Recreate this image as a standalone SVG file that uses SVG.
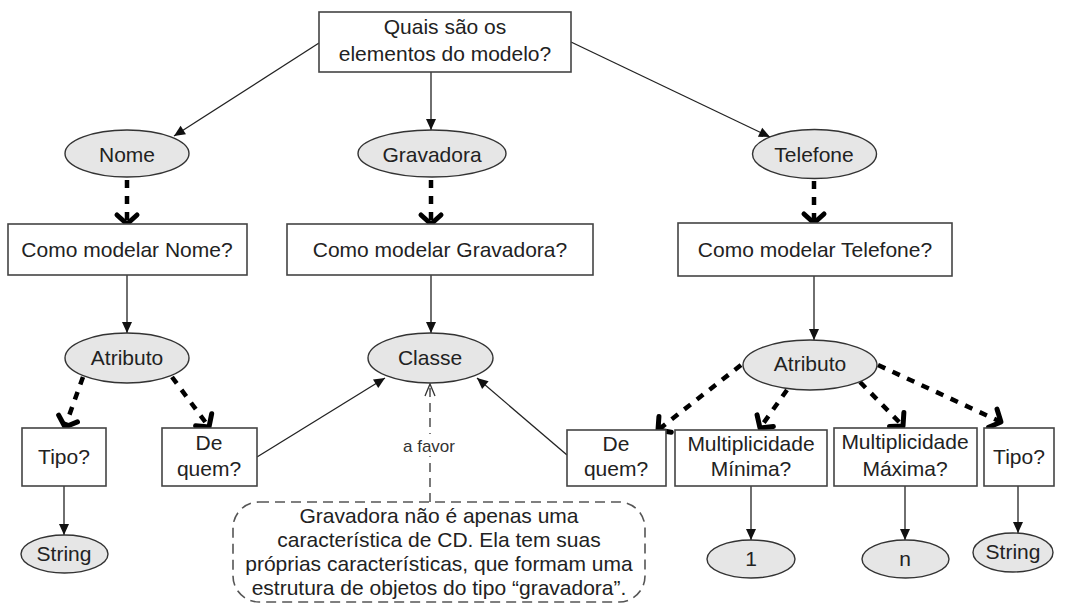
<svg xmlns="http://www.w3.org/2000/svg" width="1068" height="605" viewBox="0 0 1068 605">
<defs>
<style>
text{font-family:"Liberation Sans",Arial,sans-serif;font-size:21px;fill:#222;text-anchor:middle}
.box{fill:#fff;stroke:#444;stroke-width:1.6}
.ell{fill:#e6e6e6;stroke:#333;stroke-width:1.4}
.thin{stroke:#222;stroke-width:1.3;fill:none;marker-end:url(#tri)}
.dash{stroke:#000;stroke-width:4.5;fill:none;stroke-dasharray:8 8;marker-end:url(#chev)}
.small{font-size:17px;fill:#333}
</style>
<marker id="tri" markerUnits="userSpaceOnUse" markerWidth="14" markerHeight="12" viewBox="-12 -6 14 12" refX="0" refY="0" orient="auto">
<path d="M-11,-5 L0,0 L-11,5 Z" fill="#111"/>
</marker>
<marker id="chev" markerUnits="userSpaceOnUse" markerWidth="30" markerHeight="30" viewBox="-15 -15 30 30" refX="0" refY="0" orient="auto">
<path d="M-9,-10 L0,0 L-9,10" fill="none" stroke="#000" stroke-width="5" stroke-linecap="round" stroke-linejoin="round"/>
</marker>
<marker id="open" markerUnits="userSpaceOnUse" markerWidth="16" markerHeight="14" viewBox="-14 -7 16 14" refX="0" refY="0" orient="auto">
<path d="M-12,-5 L0,0 L-12,5" fill="none" stroke="#333" stroke-width="1.3"/>
</marker>
</defs>
<rect width="1068" height="605" fill="#fff"/>
<g id="connectors">
<line class="thin" x1="319" y1="43" x2="174" y2="136"/>
<line class="thin" x1="431" y1="72" x2="431" y2="130"/>
<line class="thin" x1="571" y1="42" x2="770" y2="137"/>
<line class="dash" x1="127" y1="180" x2="127" y2="224"/>
<line class="dash" x1="431" y1="180" x2="431" y2="224"/>
<line class="dash" x1="814" y1="181" x2="814" y2="223"/>
<line class="thin" x1="127" y1="275" x2="127" y2="333"/>
<line class="thin" x1="431" y1="275" x2="431" y2="333"/>
<line class="thin" x1="814" y1="276" x2="814" y2="340"/>
<line class="dash" x1="83" y1="377" x2="65" y2="427"/>
<line class="dash" x1="172" y1="377" x2="209" y2="427"/>
<line class="dash" x1="741" y1="365" x2="658" y2="430"/>
<line class="dash" x1="787" y1="390" x2="760" y2="428"/>
<line class="dash" x1="860" y1="382" x2="903" y2="426"/>
<line class="dash" x1="878" y1="365" x2="1001" y2="422"/>
<line class="thin" x1="257" y1="457" x2="385" y2="378"/>
<line class="thin" x1="567" y1="455" x2="477" y2="378"/>
<line x1="430" y1="502" x2="430" y2="384" stroke="#333" stroke-width="1.3" stroke-dasharray="9 6" marker-end="url(#open)"/>
<rect x="405" y="434" width="50" height="22" fill="#fff"/>
<text class="small" x="429" y="452">a favor</text>
<line class="thin" x1="64" y1="486" x2="64" y2="535"/>
<line class="thin" x1="751" y1="486" x2="751" y2="540"/>
<line class="thin" x1="905" y1="486" x2="905" y2="540"/>
<line class="thin" x1="1018" y1="486" x2="1018" y2="533"/>
</g>
<g id="n-top"><rect class="box" x="319" y="12" width="252" height="60"/><text x="445" y="34">Quais são os</text><text x="445" y="61">elementos do modelo?</text></g>
<g id="n-nome"><ellipse class="ell" cx="127" cy="153.5" rx="62" ry="23.5"/><text x="127" y="162">Nome</text></g>
<g id="n-gravadora"><ellipse class="ell" cx="432" cy="153.5" rx="74" ry="23.5"/><text x="432" y="162">Gravadora</text></g>
<g id="n-telefone"><ellipse class="ell" cx="814.5" cy="154" rx="62" ry="24.5"/><text x="814" y="162">Telefone</text></g>
<g id="n-como-nome"><rect class="box" x="8" y="224" width="239" height="51"/><text x="127" y="257">Como modelar Nome?</text></g>
<g id="n-como-grav"><rect class="box" x="287" y="224" width="306" height="51"/><text x="440" y="257">Como modelar Gravadora?</text></g>
<g id="n-como-tel"><rect class="box" x="678" y="223" width="274" height="53"/><text x="815" y="257">Como modelar Telefone?</text></g>
<g id="n-atrib-l"><ellipse class="ell" cx="127" cy="358" rx="62" ry="25"/><text x="127" y="365">Atributo</text></g>
<g id="n-classe"><ellipse class="ell" cx="430.5" cy="358" rx="62.5" ry="25"/><text x="430" y="365">Classe</text></g>
<g id="n-atrib-r"><ellipse class="ell" cx="810" cy="365" rx="67" ry="25"/><text x="810" y="371">Atributo</text></g>
<g id="n-tipo-l"><rect class="box" x="22" y="428" width="84" height="58"/><text x="64" y="464">Tipo?</text></g>
<g id="n-dequem-l"><rect class="box" x="162" y="428" width="95" height="58"/><text x="209" y="450">De</text><text x="209" y="476">quem?</text></g>
<g id="n-string-l"><ellipse class="ell" cx="64.5" cy="554" rx="43.5" ry="19"/><text x="64" y="561">String</text></g>
<g id="n-dequem-r"><rect class="box" x="567" y="430" width="99" height="56"/><text x="616" y="451">De</text><text x="616" y="476">quem?</text></g>
<g id="n-multmin"><rect class="box" x="675" y="430" width="152" height="56"/><text x="751" y="451">Multiplicidade</text><text x="751" y="476">Mínima?</text></g>
<g id="n-multmax"><rect class="box" x="834" y="428" width="143" height="58"/><text x="905" y="449">Multiplicidade</text><text x="905" y="476">Máxima?</text></g>
<g id="n-tipo-r"><rect class="box" x="984" y="428" width="70" height="58"/><text x="1019" y="464">Tipo?</text></g>
<g id="n-one"><ellipse class="ell" cx="751" cy="559" rx="44" ry="19"/><text x="751" y="566">1</text></g>
<g id="n-n"><ellipse class="ell" cx="905.5" cy="559" rx="43.5" ry="19"/><text x="905" y="566">n</text></g>
<g id="n-string-r"><ellipse class="ell" cx="1013" cy="552.5" rx="40" ry="19.5"/><text x="1013" y="559">String</text></g>
<g id="n-note"><rect x="233" y="502" width="412" height="100" rx="26" ry="26" fill="#fff" stroke="#555" stroke-width="1.6" stroke-dasharray="10 6"/>
<text x="439" y="523">Gravadora não é apenas uma</text>
<text x="439" y="547">característica de CD. Ela tem suas</text>
<text x="439" y="571">próprias características, que formam uma</text>
<text x="439" y="595">estrutura de objetos do tipo “gravadora”.</text></g>
</svg>
